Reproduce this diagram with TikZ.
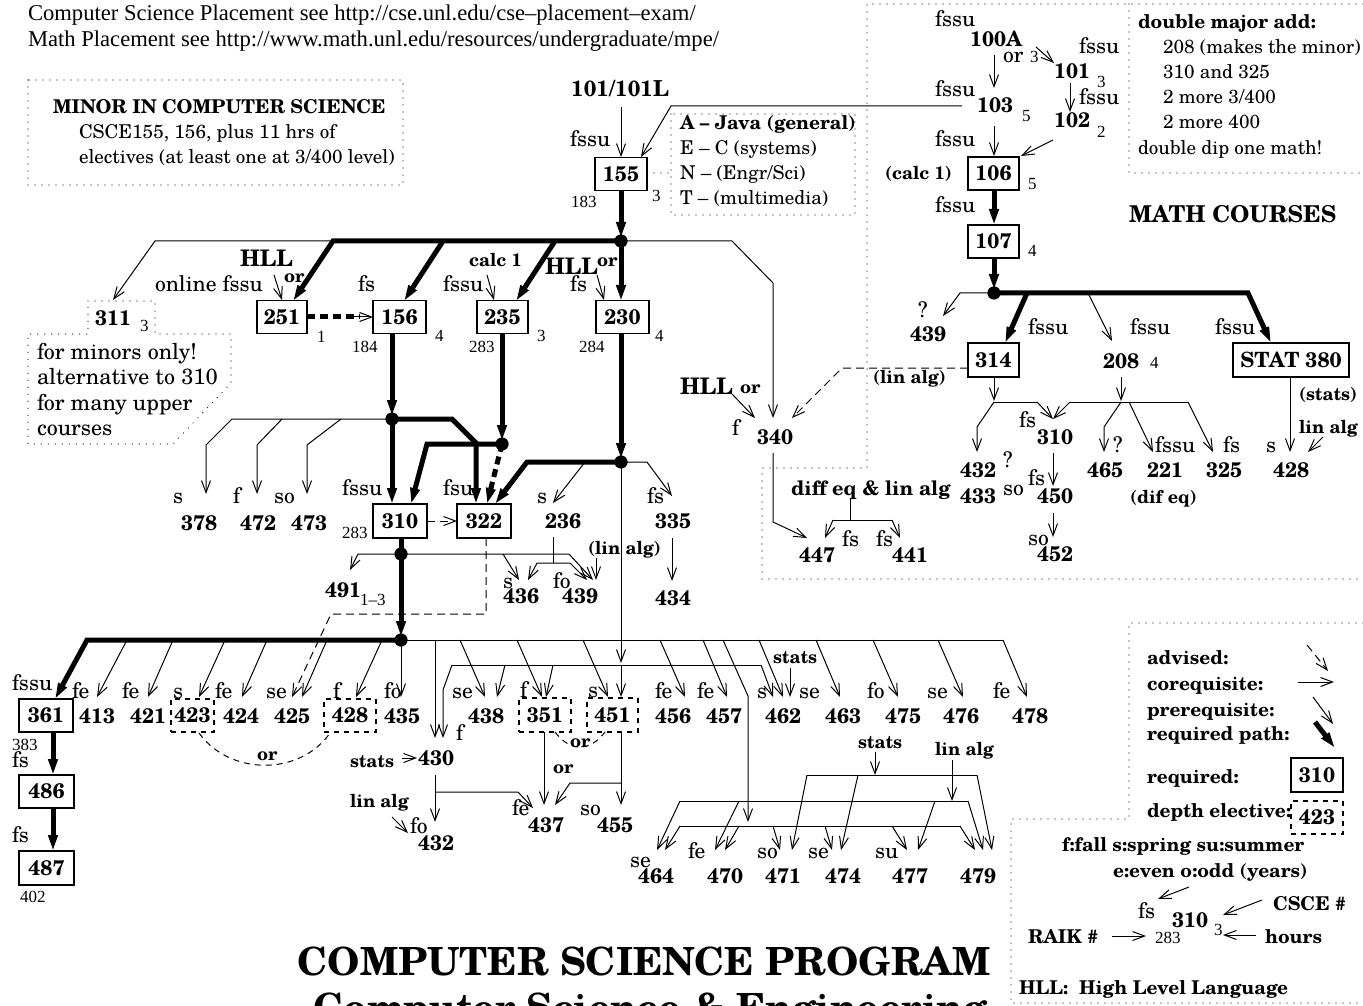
\documentclass[tikz,border=0pt]{standalone}
\usepackage{fontspec}
\setmainfont{texgyreschola}[Extension=.otf,UprightFont=*-regular,BoldFont=*-bold,ItalicFont=*-italic,BoldItalicFont=*-bolditalic]
\newfontfamily\tms{Liberation Serif}
\usetikzlibrary{arrows.meta}
\newcommand\cnum[3]{\node[nb,anchor=base west] (#1) at (#2) {#3};}
\newcommand\clab[3]{\node[lb,anchor=base west] (#1) at (#2) {#3};}
\newcommand\csmall[3]{\node[sm,anchor=base west] (#1) at (#2) {#3};}
\newcommand\cbold[3]{\node[bl,anchor=base west] (#1) at (#2) {#3};}
\tikzset{
  every node/.style={inner sep=0pt,outer sep=0pt},
  nb/.style={font=\fontsize{10.5}{12}\selectfont\bfseries},
  lb/.style={font=\fontsize{10.8}{12}\selectfont},
  sm/.style={font=\tms\fontsize{8.5}{10}\selectfont},
  bl/.style={font=\fontsize{9}{10}\selectfont\bfseries},
  rg/.style={font=\fontsize{9.5}{11}\selectfont},
  bg/.style={font=\fontsize{9.5}{11}\selectfont\bfseries},
  note/.style={font=\fontsize{11}{12}\selectfont},
  hll/.style={font=\fontsize{11.4}{12}\selectfont\bfseries},
  bx/.style={nb,draw,line width=0.6pt,minimum width=26pt,minimum height=16.5pt},
  dbx/.style={bx,dash pattern=on 2.5pt off 2.5pt},
  ln/.style={line width=0.5pt},
  cn/.style={line width=0.5pt,-{Straight Barb[length=6pt,width=4.5pt]}},
  adv/.style={cn,dash pattern=on 4pt off 2.5pt},
  th/.style={line width=2.5pt},
  tha/.style={th,-{Triangle[length=8pt,width=4.5pt]}},
  thd/.style={tha,dash pattern=on 4pt off 2.5pt},
  dotb/.style={line width=0.6pt,line cap=round,dash pattern=on 0pt off 3.5pt},
  orarc/.style={line width=0.5pt,dash pattern=on 3pt off 2.5pt},
}
\begin{document}
\begin{tikzpicture}[x=0.5pt,y=-0.5pt]
\useasboundingbox (0,0) rectangle (1363,1005);
\clip (0,0) rectangle (1363,1005);

% ---------- top text ----------
\node[font=\tms\fontsize{11.3}{13}\selectfont,anchor=base west] (url1) at (28,21) {Computer Science Placement see http://cse.unl.edu/cse–placement–exam/};
\node[font=\tms\fontsize{11.3}{13}\selectfont,anchor=base west] (url2) at (28,47) {Math Placement see http://www.math.unl.edu/resources/undergraduate/mpe/};

% ---------- minor box ----------
\draw[dotb] (28,80) rectangle (403,185);
\node[font=\fontsize{9.5}{11}\selectfont\bfseries,anchor=base west] (minorT) at (53,114) {MINOR IN COMPUTER SCIENCE};
\node[rg,anchor=base west] (minorA) at (79,139) {CSCE155, 156, plus 11 hrs of};
\node[rg,anchor=base west] (minorB) at (79,164) {electives (at least one at 3/400 level)};

% ---------- 311 note ----------
\draw[dotb] (88,301) -- (155,301) -- (155,334) -- (231,334) -- (231,383) -- (173,444) -- (28,444) -- (28,334) -- (88,334) -- cycle;
\cnum{n311}{95,325}{311}
\csmall{h311}{140,331}{3}
\node[note,anchor=base west] (nt1) at (37,359) {for minors only!};
\node[note,anchor=base west] (nt2) at (37,384) {alternative to 310};
\node[note,anchor=base west] (nt3) at (37,410) {for many upper};
\node[note,anchor=base west] (nt4) at (37,435) {courses};

% ---------- 101 / 155 ----------
\node[font=\fontsize{11}{12}\selectfont\bfseries,anchor=base] (n101L) at (620,97) {101/101L};
\draw[cn] (621,107) -- (621,157);
\clab{f155}{570,147}{fssu}
\node[bx] (b155) at (621,174) {155};
\csmall{r155}{571,208}{183}
\csmall{h155}{652,202}{3}
\draw[cn] (962,106) -- (671,106) -- (641,157);
\draw[dotb] (647,173) -- (671,173);
\draw[dotb] (671,114) rectangle (855,215);
\node[bg,anchor=base west] (langA) at (680,130) {A – Java (general)};
\node[rg,anchor=base west] (langE) at (680,155) {E – C (systems)};
\node[rg,anchor=base west] (langN) at (680,180) {N – (Engr/Sci)};
\node[rg,anchor=base west] (langT) at (680,205) {T – (multimedia)};

% ---------- junction below 155 ----------
\draw[tha] (621,190) -- (621,238);
\draw[tha] (621,241) -- (333,241) -- (293,301);
\draw[tha] (443,241) -- (404,301);
\draw[tha] (555,241) -- (516,301);
\draw[tha] (621,241) -- (621,301);
\fill (621,241) circle[radius=3.3pt];
\draw[cn] (333,241) -- (155,241) -- (113,300);
\draw[cn] (621,241) -- (732,241) -- (773,283) -- (773,418);

% ---------- 251 156 235 230 ----------
\node[bx,minimum width=25pt] (b251) at (282,317) {251};
\node[bx,minimum width=26.5pt] (b156) at (399.5,317) {156};
\node[bx,minimum width=25.5pt] (b235) at (502.5,317) {235};
\node[bx,minimum width=26.5pt] (b230) at (622.5,317) {230};
\csmall{h251}{317,343}{1}
\csmall{r156}{352,352}{184}
\csmall{h156}{435,342}{4}
\csmall{r235}{469,352}{283}
\csmall{h235}{537,342}{3}
\csmall{r230}{579,352}{284}
\csmall{h230}{655,342}{4}
\node[hll,anchor=base west] (hll1) at (240,267) {HLL};
\cbold{or1}{284,283}{or}
\clab{f251}{155,292}{online fssu}
\draw[cn] (274,275) -- (282,300);
\draw[th,dash pattern=on 4pt off 2.5pt] (307,317) -- (360,317);
\draw[cn] (352,317) -- (373,317);
\clab{f156}{358,292}{fs}
\cbold{calc1}{469,267}{calc 1}
\clab{f235}{443,292}{fssu}
\draw[cn] (487,275) -- (494,300);
\node[hll,anchor=base west] (hll2) at (545,275) {HLL};
\cbold{or2}{597,267}{or}
\clab{f230}{570,292}{fs}
\draw[cn] (597,275) -- (604,300);

% ---------- 156 down ----------
\draw[tha] (392,333) -- (392,416);
\draw[cn] (392,419) -- (232,419) -- (206,445) -- (206,494);
\draw[cn] (282,419) -- (257,445) -- (257,494);
\draw[cn] (341,419) -- (307,445) -- (307,494);
\draw[tha] (392,419) -- (392,504);
\draw[tha] (392,419) -- (452,419) -- (476,443) -- (476,504);
\fill (392,419) circle[radius=3.3pt];
\clab{s378}{173,503}{s}
\cnum{n378}{181,530}{378}
\clab{s472}{233,503}{f}
\cnum{n472}{240,530}{472}
\clab{s473}{274,503}{so}
\cnum{n473}{291,530}{473}

% ---------- 235 down ----------
\draw[tha] (502,333) -- (502,441);
\draw[tha] (502,444) -- (427,444) -- (411,504);
\draw[thd] (502,444) -- (487,504);
\fill (502,444) circle[radius=3.3pt];

% ---------- 310 / 322 ----------
\node[bx,minimum width=27pt,minimum height=17pt] (b310) at (400,521) {310};
\node[bx,minimum width=27pt,minimum height=17pt] (b322) at (484,521) {322};
\clab{f310}{342,495}{fssu}
\csmall{r310}{342,538}{283}
\clab{f322}{443,495}{fsu}
\draw[adv] (427,521) -- (457,521);

% ---------- 230 down ----------
\draw[tha] (621,333) -- (621,459);
\draw[tha] (621,462) -- (527,462) -- (495,504);
\draw[cn] (585,462) -- (553,503);
\draw[cn] (621,462) -- (647,462) -- (672,496);
\draw[cn] (621,462) -- (621,663);
\draw[cn] (621,665) -- (621,697);
\fill (621,462) circle[radius=3.3pt];
\clab{s236}{537,503}{s}
\cnum{n236}{545,528}{236}
\clab{s335}{647,503}{fs}
\cnum{n335}{655,528}{335}
\draw[cn] (672,538) -- (672,581);
\cnum{n434}{655,605}{434}

% ---------- 236 -> 436/439 ----------
\draw[ln] (553,537) -- (553,563);
\draw[cn] (553,563) -- (537,563) -- (528,580);
\draw[cn] (553,563) -- (570,563) -- (587,580);

% ---------- 310 down ----------
\draw[th] (401,538) -- (401,554);
\draw[tha] (401,554) -- (401,637);
\draw[cn] (401,554) -- (358,554) -- (350,570);
\draw[cn] (401,554) -- (569,554) -- (593,580);
\draw[cn] (503,554) -- (519,580);
\fill (401,554) circle[radius=3.3pt];
\cbold{linalg1}{588,554}{(lin alg)}
\draw[cn] (596,558) -- (596,580);
\clab{s436}{503,588}{s}
\cnum{n436}{503,603}{436}
\clab{s439}{553,588}{fo}
\cnum{n439}{562,603}{439}
\cnum{n491}{325,597}{491}
\csmall{h491}{360,605}{1–3}
\draw[adv] (486,538) -- (486,614) -- (331,614) -- (292,697);

% ---------- big row ----------
\draw[ln] (401,640) -- (1003,640);
\draw[cn] (1003,640) -- (1027,697);
\draw[tha] (401,640) -- (87,640) -- (55,699);
\foreach \a/\b in {127/97,173/148,225/199,267/242,327/302,382/356,460/485,517/542,583/608,660/685,703/727,759/783,816/840,873/898,938/963}
  \draw[cn] (\a,640) -- (\b,697);
\draw[cn] (401,640) -- (401,697);
\draw[cn] (435,640) -- (435,738);
\draw[cn] (723,640) -- (748,696) -- (748,822);
\fill (401,640) circle[radius=3.3pt];

% stats bracket (y=665)
\draw[ln] (452,665) -- (761,665);
\draw[cn] (452,665) -- (443,690) -- (443,738);
\draw[cn] (505,665) -- (497,697);
\draw[cn] (553,665) -- (546,697);
\draw[cn] (761,665) -- (773,697);
\cbold{stats1}{773,663}{stats}
\draw[cn] (790,668) -- (790,697);

% row labels
\node[bx,minimum width=27pt] (b361) at (46,715.5) {361};
\clab{f361}{12,690}{fssu}
\csmall{r361}{12,750}{383}
\clab{s413}{72,698}{fe}
\cnum{n413}{79,723}{413}
\clab{s421}{122,698}{fe}
\cnum{n421}{130,723}{421}
\node[dbx,minimum width=21.5pt] (b423) at (192.5,715.5) {423};
\clab{s423}{173,698}{s}
\clab{s424}{215,698}{fe}
\cnum{n424}{223,723}{424}
\clab{s425}{266,698}{se}
\cnum{n425}{274,723}{425}
\node[dbx] (b428) at (350,715.5) {428};
\clab{s428}{333,698}{f}
\clab{s435}{384,698}{fo}
\cnum{n435}{384,723}{435}
\draw[orarc] (199,733) .. controls (230,776) and (300,776) .. (330,733);
\cbold{or3}{257,760}{or}

\clab{s438}{452,698}{se}
\cnum{n438}{468,723}{438}
\node[dbx,minimum height=17pt] (b351) at (545,715) {351};
\clab{s351}{520,697}{f}
\node[dbx,minimum width=25.5pt,minimum height=17pt] (b451) at (612.5,715) {451};
\clab{s451}{588,697}{s}
\clab{s456}{655,698}{fe}
\cnum{n456}{655,723}{456}
\clab{s457}{697,698}{fe}
\cnum{n457}{706,723}{457}
\clab{s462}{757,698}{s}
\cnum{n462}{765,723}{462}
\clab{s463}{799,698}{se}
\cnum{n463}{825,723}{463}
\clab{s475}{867,698}{fo}
\cnum{n475}{885,723}{475}
\clab{s476}{927,698}{se}
\cnum{n476}{943,723}{476}
\clab{s478}{993,698}{fe}
\cnum{n478}{1012,723}{478}

% ---------- 430 / 437 / 455 ----------
\clab{s430}{456,740}{f}
\cnum{n430}{418,765}{430}
\cbold{stats2}{350,767}{stats}
\draw[cn] (402,758) -- (417,758);
\draw[cn] (435,775) -- (435,822);
\draw[cn] (435,792) -- (518,792) -- (533,808);
\cbold{linalg2}{350,807}{lin alg}
\draw[cn] (392,817) -- (408,833);
\clab{s432}{410,833}{fo}
\cnum{n432}{418,850}{432}
\draw[cn] (544,732) -- (544,805);
\draw[ln] (621,732) -- (621,783);
\draw[cn] (621,783) -- (570,783) -- (555,805);
\draw[cn] (621,783) -- (621,805);
\cbold{or4}{553,773}{or}
\draw[orarc] (555,732) .. controls (570,752) and (590,752) .. (605,732);
\cbold{or5}{570,747}{or}
\clab{s437}{512,815}{fe}
\cnum{n437}{528,832}{437}
\clab{s455}{580,815}{so}
\cnum{n455}{597,832}{455}

% ---------- 361 -> 486 -> 487 ----------
\draw[tha] (53,732) -- (53,775);
\node[bx,minimum width=27.5pt] (b486) at (46.5,791.5) {486};
\clab{f486}{12,767}{fs}
\draw[tha] (53,808) -- (53,851);
\node[bx,minimum width=27.5pt,minimum height=17pt] (b487) at (46.5,868) {487};
\clab{f487}{12,842}{fs}
\csmall{r487}{20,902}{402}

% ---------- 464..479 group ----------
\cbold{stats3}{858,748}{stats}
\draw[cn] (875,752) -- (875,775);
\draw[ln] (807,775) -- (977,775);
\draw[cn] (807,775) -- (792,850);
\draw[cn] (858,775) -- (841,850);
\draw[cn] (977,775) -- (992,850);
\cbold{linalg3}{935,755}{lin alg}
\draw[cn] (952,760) -- (952,801);
\draw[ln] (680,801) -- (968,801);
\draw[cn] (680,801) -- (657,850);
\draw[cn] (739,801) -- (715,850);
\draw[cn] (935,801) -- (918,850);
\draw[cn] (968,801) -- (983,850);
\draw[ln] (680,826) -- (960,826);
\draw[cn] (680,826) -- (665,850);
\draw[cn] (739,826) -- (725,850);
\draw[cn] (773,826) -- (780,850);
\draw[cn] (825,826) -- (832,850);
\draw[cn] (892,826) -- (907,850);
\draw[cn] (960,826) -- (975,850);
\clab{s464}{630,867}{se}
\cnum{n464}{638,883}{464}
\clab{s470}{688,858}{fe}
\cnum{n470}{707,883}{470}
\clab{s471}{757,858}{so}
\cnum{n471}{765,883}{471}
\clab{s474}{808,858}{se}
\cnum{n474}{825,883}{474}
\clab{s477}{875,858}{su}
\cnum{n477}{892,883}{477}
\cnum{n479}{960,883}{479}

% ---------- math region ----------
\draw[dotb] (1363,4) -- (867,4) -- (867,468) -- (762,468) -- (762,579) -- (1363,579);
\draw[dotb] (1129,4) -- (1129,173) -- (1363,173);
\node[bg,anchor=base west] (dm0) at (1138,29) {double major add:};
\node[rg,anchor=base west] (dm1) at (1163,54) {208 (makes the minor)};
\node[rg,anchor=base west] (dm2) at (1163,79) {310 and 325};
\node[rg,anchor=base west] (dm3) at (1163,104) {2 more 3/400};
\node[rg,anchor=base west] (dm4) at (1163,129) {2 more 400};
\node[rg,anchor=base west] (dm5) at (1138,155) {double dip one math!};

\clab{f100}{935,27}{fssu}
\cnum{n100}{970,47}{100A}
\draw[cn] (994,55) -- (994,88);
\clab{or6}{1003,63}{or}
\csmall{h100}{1030,63}{3}
\draw[cn] (1036,47) -- (1054,63);
\clab{f101}{1079,54}{fssu}
\cnum{n101}{1054,79}{101}
\csmall{h101}{1097,88}{3}
\draw[cn] (1070,83) -- (1070,112);
\clab{f102}{1079,105}{fssu}
\cnum{n102}{1054,128}{102}
\csmall{h102}{1097,138}{2}
\clab{f103}{935,97}{fssu}
\cnum{n103}{977,113}{103}
\csmall{h103}{1022,122}{5}
\draw[cn] (994,126) -- (994,156);
\draw[cn] (1053,140) -- (1021,156);
\clab{f106}{935,147}{fssu}
\node[bx,minimum width=25.5pt] (b106) at (993.5,173.5) {106};
\cbold{calc2}{885,180}{(calc 1)}
\csmall{h106}{1028,190}{5}
\draw[tha] (994,190) -- (994,225);
\clab{f107}{935,213}{fssu}
\node[bx,minimum width=25.5pt] (b107) at (993.5,241.5) {107};
\csmall{h107}{1028,257}{4}
\draw[tha] (994,258) -- (994,290);
\draw[cn] (994,293) -- (960,293) -- (943,316);
\draw[tha] (994,293) -- (1248,293) -- (1271,343);
\draw[tha] (1027,293) -- (1005,343);
\draw[cn] (1088,293) -- (1112,341);
\fill (994,293) circle[radius=3.3pt];
\clab{q439}{918,317}{?}
\cnum{m439}{910,342}{439}
\clab{f314}{1028,335}{fssu}
\clab{f208}{1130,335}{fssu}
\clab{f380}{1215,335}{fssu}
\node[bx,minimum width=25.5pt,minimum height=17pt] (b314) at (993.5,360) {314};
\cnum{n208}{1103,368}{208}
\csmall{h208}{1150,368}{4}
\node[bx,minimum width=58pt,minimum height=17pt] (b380) at (1291,360) {STAT 380};
\draw[adv] (968,368) -- (842,368) -- (792,418);
\cbold{linalg4}{873,383}{(lin alg)}
\draw[cn] (994,377) -- (994,401);
\draw[ln] (994,402) -- (1037,402);
\draw[cn] (1037,402) -- (1053,419);
\draw[cn] (994,402) -- (977,427) -- (977,452);
\draw[cn] (1121,377) -- (1121,401);
\draw[ln] (1070,402) -- (1188,402);
\draw[cn] (1070,402) -- (1053,419);
\draw[cn] (1121,402) -- (1104,427) -- (1104,452);
\draw[cn] (1129,402) -- (1153,452);
\draw[cn] (1188,402) -- (1213,452);
\clab{s310m}{1019,427}{fs}
\cnum{n310m}{1037,444}{310}
\draw[cn] (1053,453) -- (1053,486);
\clab{s450}{1028,485}{fs}
\cnum{n450}{1037,503}{450}
\draw[cn] (1053,513) -- (1053,537);
\clab{s452}{1028,545}{so}
\cnum{n452}{1037,561}{452}
\cnum{n432m}{960,477}{432}
\clab{q432}{1003,467}{?}
\cnum{n433}{960,503}{433}
\clab{s433}{1003,495}{so}
\clab{q465}{1113,452}{?}
\cnum{n465}{1087,477}{465}
\clab{s221}{1155,452}{fssu}
\cnum{n221}{1147,477}{221}
\cbold{difeq}{1130,503}{(dif eq)}
\clab{s325}{1223,452}{fs}
\cnum{n325}{1206,477}{325}
\draw[cn] (1290,377) -- (1290,452);
\cbold{stats4}{1299,400}{(stats)}
\cbold{linalg5}{1299,433}{lin alg}
\draw[cn] (1323,437) -- (1308,452);
\clab{s428m}{1266,452}{s}
\cnum{n428m}{1273,477}{428}
\node[font=\fontsize{11.6}{13}\selectfont\bfseries,anchor=base west] (mathT) at (1129,223) {MATH COURSES};

% ---------- 340 ----------
\node[hll,anchor=base west] (hll3) at (680,394) {HLL};
\cbold{or7}{740,393}{or}
\draw[cn] (732,394) -- (755,418);
\clab{s340}{732,435}{f}
\cnum{n340}{757,444}{340}
\draw[cn] (773,453) -- (773,522) -- (807,538);
\node[font=\fontsize{10}{11}\selectfont\bfseries,anchor=base west] (diffeq) at (791,495) {diff eq \& lin alg};
\draw[ln] (850,499) -- (850,520);
\draw[ln] (833,520) -- (892,520);
\draw[cn] (833,520) -- (825,538);
\draw[cn] (892,520) -- (900,538);
\clab{s447}{842,546}{fs}
\cnum{n447}{799,562}{447}
\clab{s441}{876,546}{fs}
\cnum{n441}{892,562}{441}

% ---------- legend ----------
\draw[dotb] (1363,623) -- (1129,623) -- (1129,819) -- (1011,819) -- (1011,1003) -- (1363,1003);
\node[bg,anchor=base west] (lg1) at (1147,664) {advised:};
\node[bg,anchor=base west] (lg2) at (1147,690) {corequisite:};
\node[bg,anchor=base west] (lg3) at (1147,716) {prerequisite:};
\node[bg,anchor=base west] (lg4) at (1147,740) {required path:};
\node[bg,anchor=base west] (lg5) at (1147,783) {required:};
\node[bg,anchor=base west] (lg6) at (1147,817) {depth elective:};
\draw[adv] (1307,645) -- (1328,671);
\draw[cn] (1298,682) -- (1334,682);
\draw[cn] (1313,697) -- (1333,724);
\draw[tha] (1315,722) -- (1335,748);
\node[bx,minimum height=17pt] (lgb1) at (1317,775) {310};
\node[dbx] (lgb2) at (1317,817.5) {423};
\node[bg,anchor=base west] (lg7) at (1062,851) {f:fall s:spring su:summer};
\node[bg,anchor=base west] (lg8) at (1113,877) {e:even o:odd (years)};
\draw[cn] (1189,887) -- (1158,899);
\clab{lgf}{1138,918}{fs}
\cnum{lgn}{1172,927}{310}
\csmall{lgh}{1214,935}{3}
\csmall{lgr}{1155,943}{283}
\node[bg,anchor=base west] (lg9) at (1273,910) {CSCE \#};
\draw[cn] (1262,900) -- (1223,915);
\node[bg,anchor=base west] (lg10) at (1265,943) {hours};
\draw[cn] (1256,935) -- (1223,935);
\node[bg,anchor=base west] (lg11) at (1028,943) {RAIK \#};
\draw[cn] (1112,936) -- (1146,936);
\node[bg,anchor=base west] (lg12) at (1019,994) {HLL:\ \ High Level Language};

% ---------- title ----------
\node[font=\fontsize{19.4}{22}\selectfont\bfseries,anchor=base] (title1) at (644,975) {COMPUTER SCIENCE PROGRAM};
\node[font=\fontsize{19.4}{22}\selectfont\bfseries,anchor=base] (title2) at (650,1021) {Computer Science \& Engineering};
\end{tikzpicture}
\end{document}
